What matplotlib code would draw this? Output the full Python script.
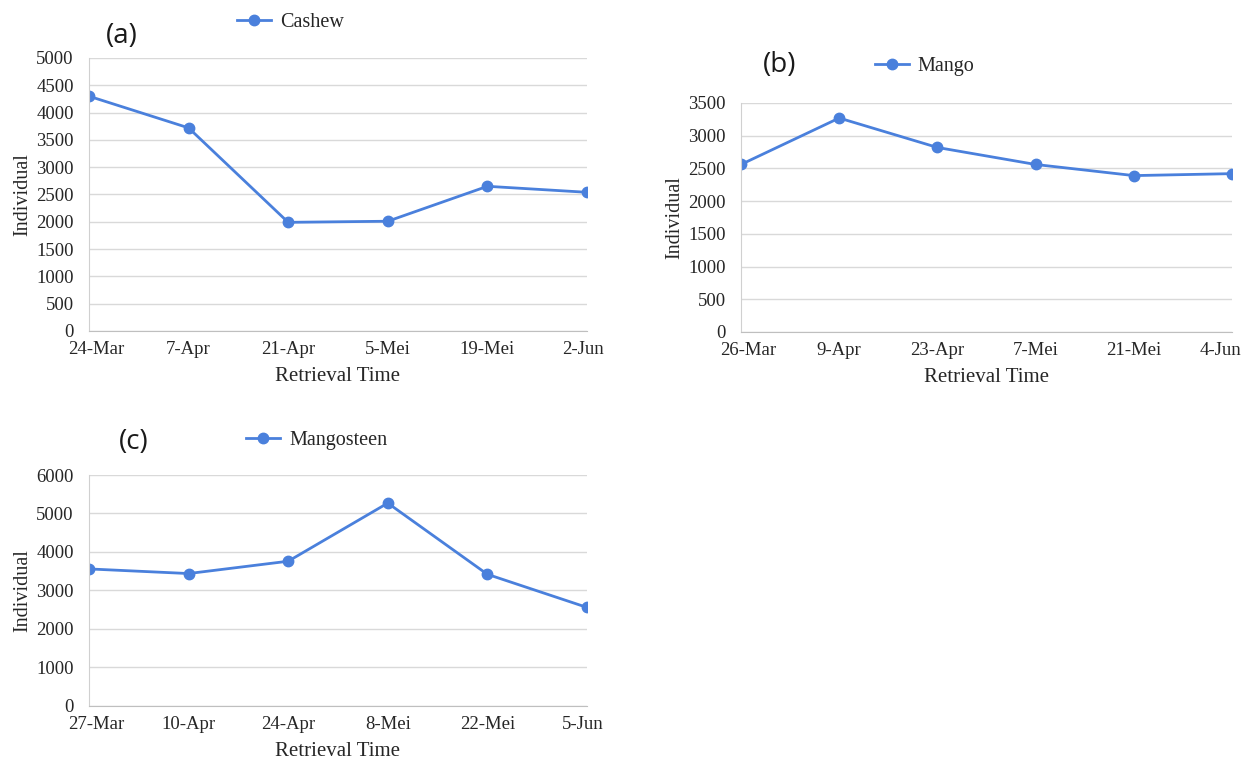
import matplotlib.pyplot as plt
import matplotlib.transforms as mtrans

# panel (a) cashew
cashewDates = ['24-Mar', '7-Apr', '21-Apr', '5-Mei', '19-Mei', '2-Jun']
cashewCount = [4300, 3720, 1990, 2010, 2650, 2540]

# panel (b) mango
mangoDates = ['26-Mar', '9-Apr', '23-Apr', '7-Mei', '21-Mei', '4-Jun']
mangoCount = [2560, 3270, 2820, 2560, 2390, 2420]

# panel (c) mangosteen
mangosteenDates = ['27-Mar', '10-Apr', '24-Apr', '8-Mei', '22-Mei', '5-Jun']
mangosteenCount = [3560, 3440, 3760, 5270, 3420, 2560]

lineColor = '#4a80dc'
textColor = '#262626'
serif = 'Liberation Serif'


def drawPanel(fig, rect, dates, counts, name, ymax, ystep, tag, tagPos, legPos, lastShift):
    ax = fig.add_axes(rect)
    x = list(range(len(dates)))
    ax.plot(x, counts, color=lineColor, lw=2, marker='o', ms=7.5, label=name)
    ax.set_xlim(0, len(dates) - 1)
    ax.set_ylim(0, ymax)
    ax.set_yticks(range(0, ymax + 1, ystep))
    ax.set_xticks(x)
    ax.set_xticklabels(dates)
    ax.grid(axis='y', color='#d9d9d9', lw=1)
    ax.set_axisbelow(True)
    for s in ['top', 'right']:
        ax.spines[s].set_visible(False)
    ax.spines['left'].set_color('#d0d0d0')
    ax.spines['bottom'].set_color('#bfbfbf')
    ax.tick_params(axis='y', length=0, labelsize=13.5, pad=11, labelcolor=textColor)
    ax.tick_params(axis='x', length=0, labelsize=13.5, pad=7, labelcolor=textColor)
    for lbl in ax.get_xticklabels() + ax.get_yticklabels():
        lbl.set_fontfamily(serif)
    # squeeze the end labels inward a little, like the original
    xl = ax.get_xticklabels()
    xl[0].set_transform(xl[0].get_transform() + mtrans.ScaledTranslation(5 / 72, 0, fig.dpi_scale_trans))
    xl[-1].set_transform(xl[-1].get_transform() + mtrans.ScaledTranslation(-lastShift / 72, 0, fig.dpi_scale_trans))
    ax.set_xlabel('Retrieval Time', fontsize=15, fontfamily=serif, labelpad=7, color=textColor)
    ax.set_ylabel('Individual', fontsize=14.5, fontfamily=serif, labelpad=3, color=textColor)
    ax.legend(loc='center', bbox_to_anchor=legPos, bbox_transform=fig.transFigure,
              frameon=False, prop={'family': serif, 'size': 14.5},
              handlelength=1.7, handletextpad=0.45, labelcolor=textColor)
    fig.text(tagPos[0], tagPos[1], tag, fontsize=20, fontfamily='Open Sans',
             ha='center', va='center', color='#1a1a1a')
    return ax


fig = plt.figure(figsize=(12.46, 7.6), dpi=100)

drawPanel(fig, [0.0714, 0.5645, 0.3997, 0.3592], cashewDates, cashewCount,
          'Cashew', 5000, 500, '(a)', (0.0975, 0.952), (0.233, 0.971), 3)
drawPanel(fig, [0.5947, 0.5632, 0.3941, 0.3013], mangoDates, mangoCount,
          'Mango', 3500, 500, '(b)', (0.626, 0.915), (0.742, 0.912), 8)
drawPanel(fig, [0.0714, 0.0711, 0.3997, 0.3039], mangosteenDates, mangosteenCount,
          'Mangosteen', 6000, 1000, '(c)', (0.107, 0.418), (0.254, 0.421), 3)

fig.savefig('out.png', dpi=100)
